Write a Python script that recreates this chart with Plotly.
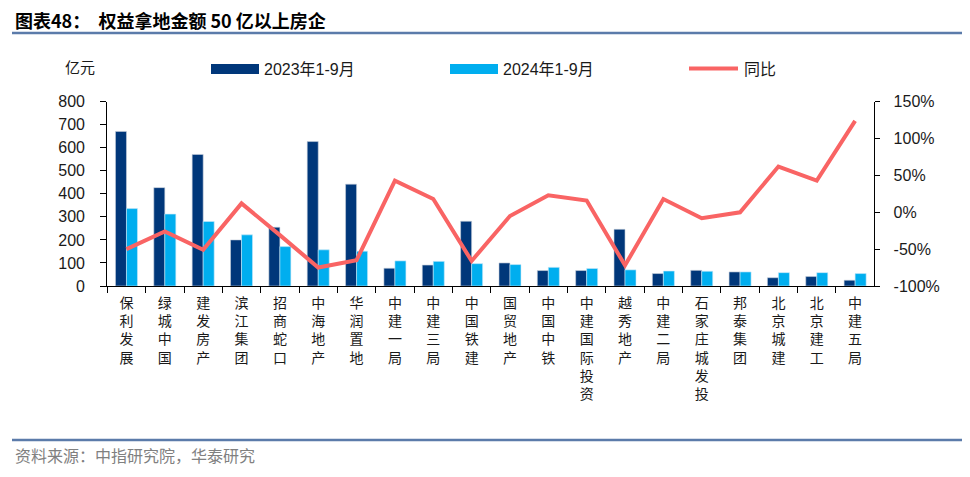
import plotly.graph_objects as go

categories = ["保利发展", "绿城中国", "建发房产", "滨江集团", "招商蛇口", "中海地产", "华润置地",
              "中建一局", "中建三局", "中国铁建", "国贸地产", "中国中铁", "中建国际投资", "越秀地产",
              "中建二局", "石家庄城发投", "邦泰集团", "北京城建", "北京建工", "中建五局"]
v2023 = [671, 427, 571, 200, 255, 627, 442, 77, 91, 281, 100, 67, 67, 246, 54, 68, 61, 36, 41, 25]
v2024 = [336, 312, 280, 222, 171, 157, 151, 109, 107, 97, 93, 81, 76, 70, 65, 64, 61, 58, 58, 54]
yoy = [-50, -26, -51, 12, -31, -75, -65, 43, 18, -66, -5, 23, 16, -72, 18, -8, 0, 62, 43, 124]
left_ticks = [0, 100, 200, 300, 400, 500, 600, 700, 800]
right_ticks = [-100, -50, 0, 50, 100, 150]
right_labels = [f"{v}%" for v in right_ticks]

# page body has an 8px margin: build the figure in window pixel coordinates minus that offset
OFF = 8
W, H = 970 - OFF, 477 - OFF
DARK = "#00377A"
LIGHT = "#00AEEF"
RED = "#F96464"
TXT = "#1A1A1A"
NUMFONT = "Liberation Sans, Arial, sans-serif"
CJK = "Noto Sans CJK SC"

def px(x):
    return (x - OFF) / W

def py(y):
    return 1 - (y - OFF) / H

fig = go.Figure()
fig.add_trace(go.Bar(x=categories, y=v2023, name="2023年1-9月", marker_color=DARK,
                     marker_line=dict(width=0.6, color="#C8D0DC"), yaxis="y"))
fig.add_trace(go.Bar(x=categories, y=v2024, name="2024年1-9月", marker_color=LIGHT,
                     marker_line=dict(width=0.6, color="#C8E8F8"), yaxis="y"))
fig.add_trace(go.Scatter(x=categories, y=yoy, name="同比", mode="lines",
                         line=dict(color=RED, width=4), yaxis="y2"))

ticktext = ["<br>".join(list(c)) for c in categories]

fig.update_layout(
    width=W, height=H,
    margin=dict(l=0, r=0, t=0, b=0),
    paper_bgcolor="white", plot_bgcolor="white",
    showlegend=False,
    barmode="group", bargap=0.426, bargroupgap=0,
    xaxis=dict(domain=[px(107.3), px(874.3)], type="category",
               tickvals=categories, ticktext=ticktext,
               tickson="boundaries", ticks="outside", ticklen=6, tickcolor="black",
               showline=True, linecolor="black", linewidth=1.2,
               showgrid=False, automargin=False,
               tickfont=dict(family=CJK, size=14, color=TXT), tickangle=0,
               ticklabelstandoff=4),
    yaxis=dict(domain=[py(286), py(101.7)], range=[0, 800], tickvals=left_ticks,
               ticks="outside", ticklen=6, tickcolor="black",
               showline=True, linecolor="black", linewidth=1.2,
               showgrid=False, zeroline=False, automargin=False,
               tickfont=dict(family=NUMFONT, size=16, color=TXT),
               ticklabelstandoff=12),
    yaxis2=dict(overlaying="y", side="right", anchor="x", range=[-100, 150],
                tickmode="array", tickvals=right_ticks, ticktext=right_labels,
                ticks="outside", ticklen=5, tickcolor="black",
                showline=True, linecolor="black", linewidth=1.2,
                showgrid=False, zeroline=False, automargin=False,
                tickfont=dict(family=NUMFONT, size=16, color=TXT),
                ticklabelstandoff=10),
)

shapes = []
annotations = []
# title & separators
shapes.append(dict(type="line", xref="paper", yref="paper", x0=px(12), x1=1, y0=py(33), y1=py(33),
                   line=dict(color="#5B7BAA", width=2.5)))
shapes.append(dict(type="line", xref="paper", yref="paper", x0=px(12), x1=1, y0=py(440), y1=py(440),
                   line=dict(color="#5B7BAA", width=2.5)))
annotations.append(dict(xref="paper", yref="paper", x=px(13), y=py(20), xanchor="left", yanchor="middle",
                        text="<b>图表48：  权益拿地金额 50 亿以上房企</b>", showarrow=False,
                        font=dict(family=CJK, size=18, color="black")))
annotations.append(dict(xref="paper", yref="paper", x=px(13), y=py(455), xanchor="left", yanchor="middle",
                        text="资料来源：中指研究院，华泰研究", showarrow=False,
                        font=dict(family=CJK, size=16, color="#808080")))
annotations.append(dict(xref="paper", yref="paper", x=px(63), y=py(67), xanchor="left", yanchor="middle",
                        text="亿元", showarrow=False, font=dict(family=CJK, size=15, color=TXT)))
# manual legend
shapes.append(dict(type="rect", xref="paper", yref="paper", x0=px(211), x1=px(259), y0=py(74), y1=py(64),
                   fillcolor=DARK, line=dict(width=0)))
shapes.append(dict(type="rect", xref="paper", yref="paper", x0=px(450), x1=px(498), y0=py(74), y1=py(64),
                   fillcolor=LIGHT, line=dict(width=0)))
shapes.append(dict(type="line", xref="paper", yref="paper", x0=px(689), x1=px(738), y0=py(68.5), y1=py(68.5),
                   line=dict(color=RED, width=4)))
for x, t in [(262, "2023年1-9月"), (501, "2024年1-9月"), (742, "同比")]:
    annotations.append(dict(xref="paper", yref="paper", x=px(x), y=py(69), xanchor="left", yanchor="middle",
                            text=t, showarrow=False, font=dict(family=NUMFONT + ", " + CJK, size=16, color=TXT)))

fig.update_layout(shapes=shapes, annotations=annotations)
fig.write_html("out.html")
